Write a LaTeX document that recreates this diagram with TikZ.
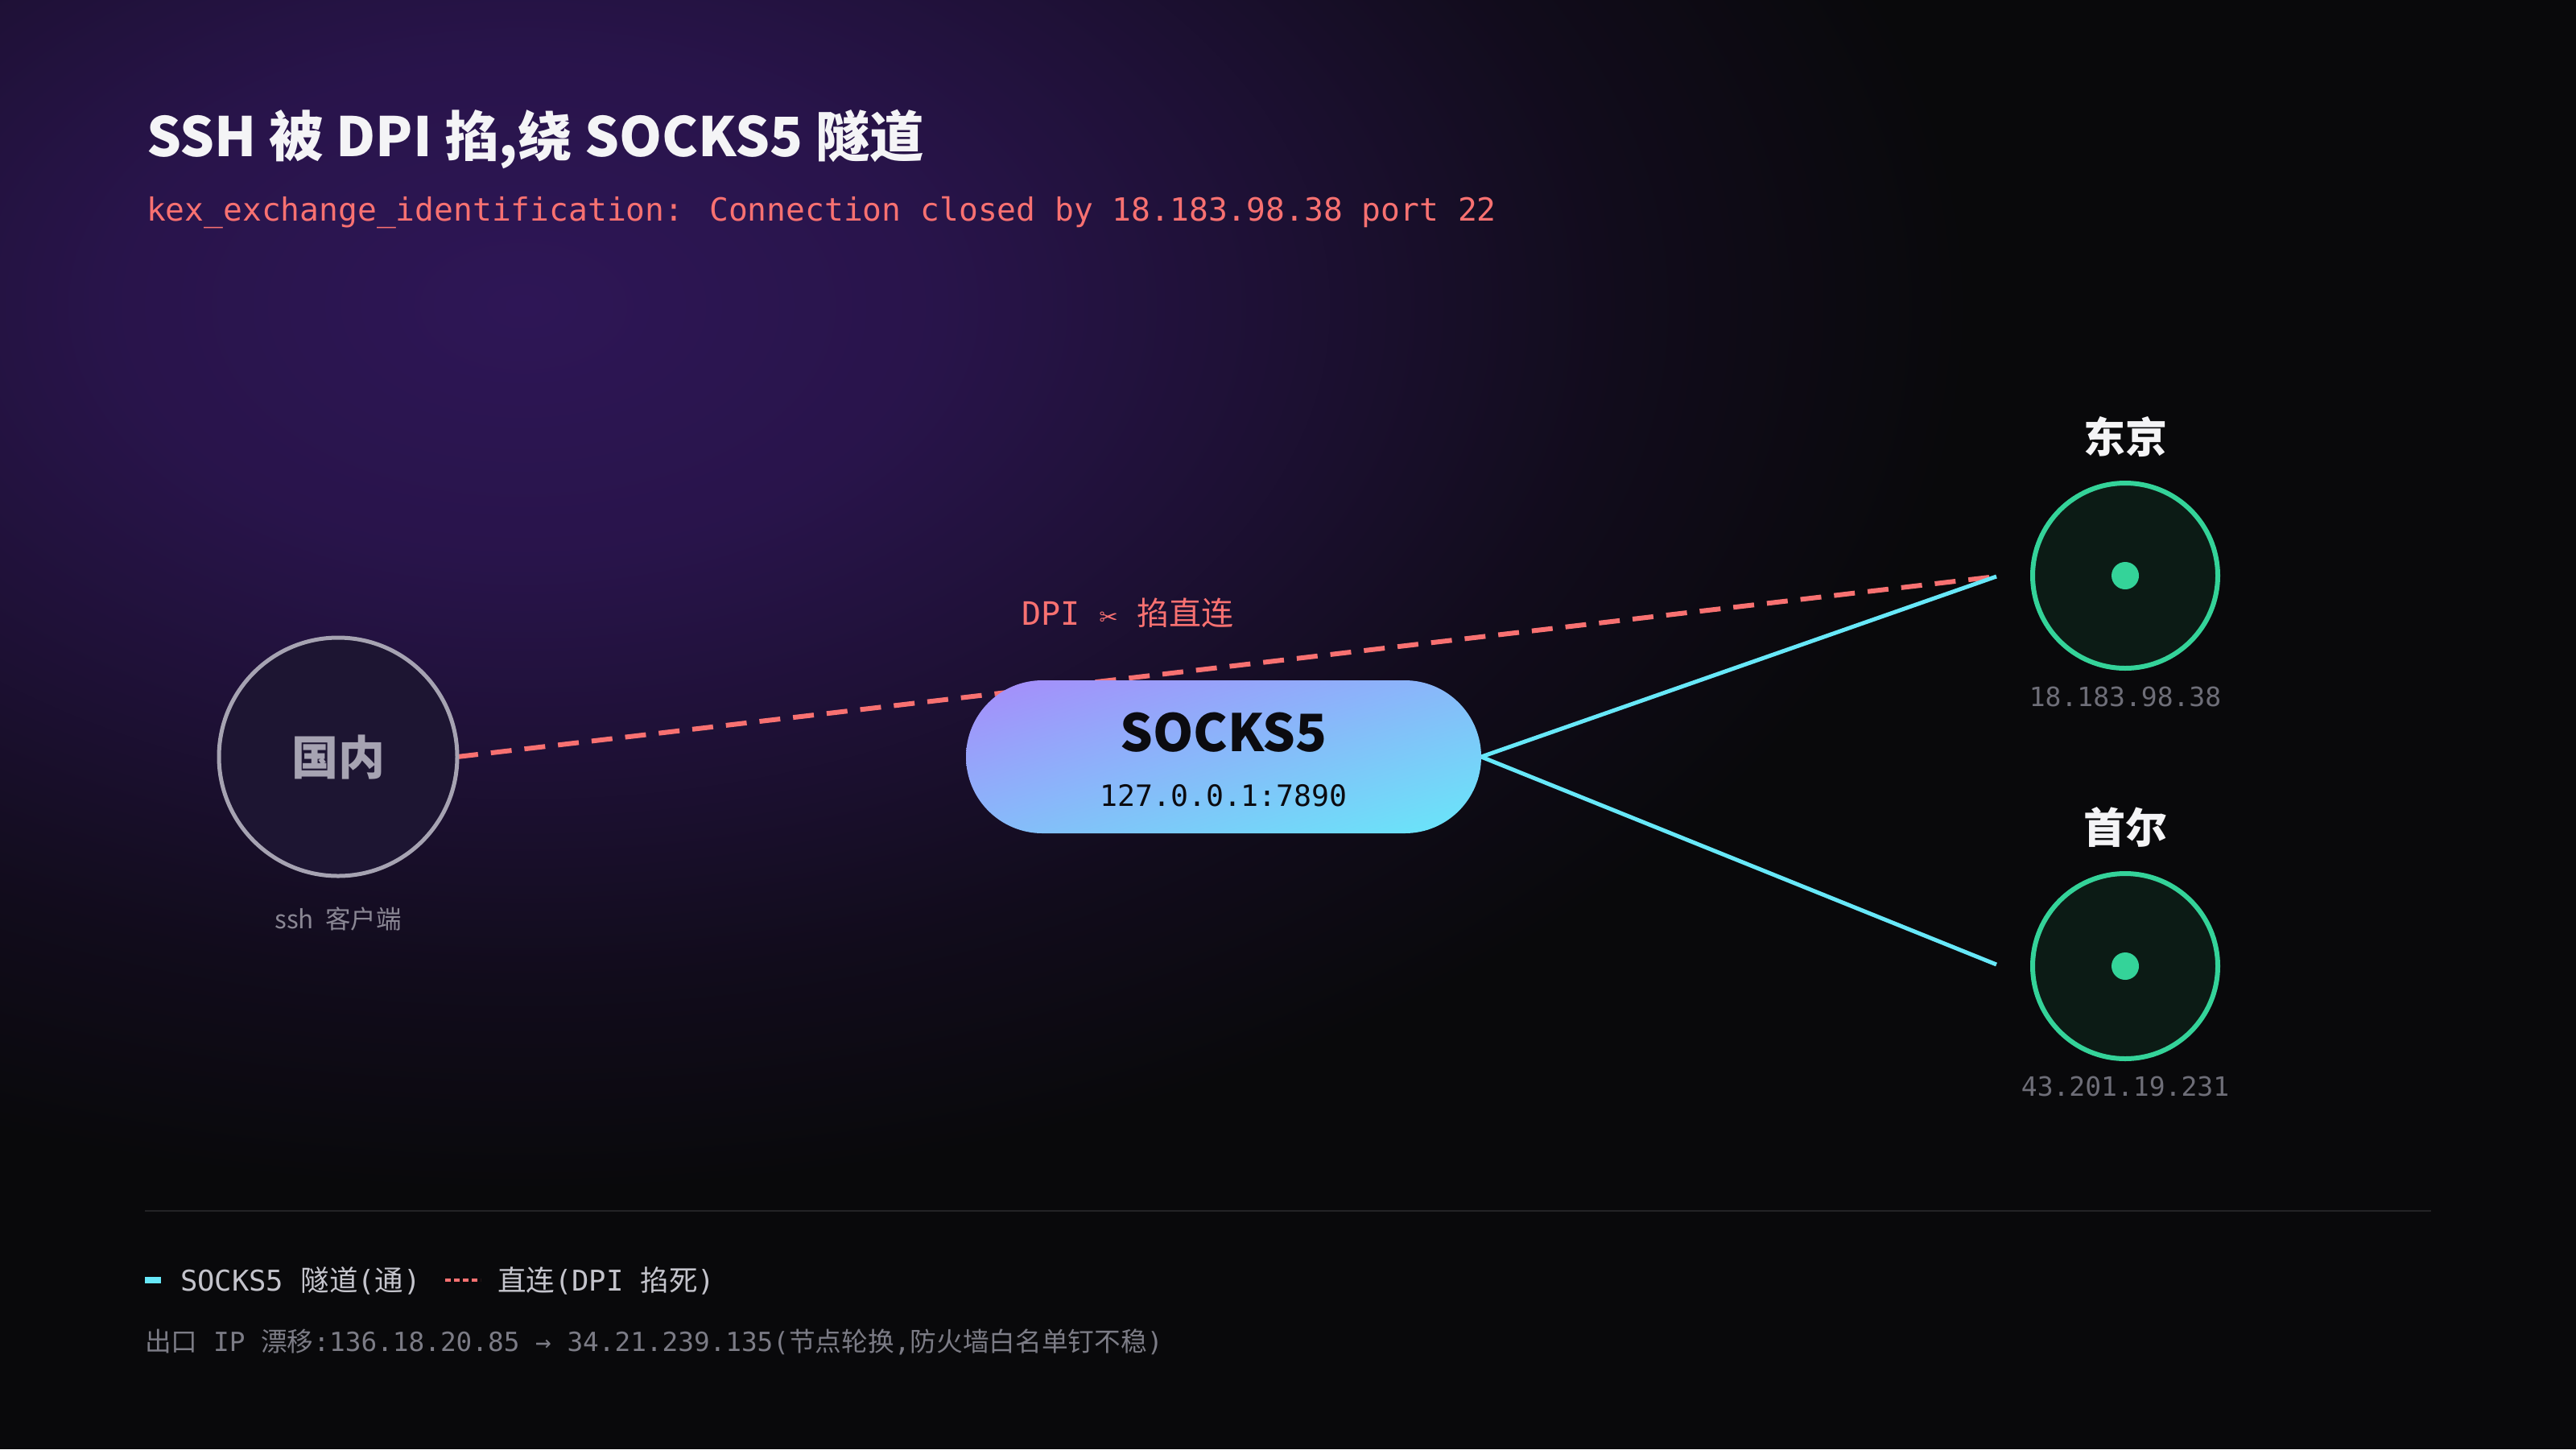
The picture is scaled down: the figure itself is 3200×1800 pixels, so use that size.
\documentclass[tikz,border=0pt]{standalone}
\usepackage{fontspec}
\usetikzlibrary{shadings}
\newfontfamily\cjk{Noto Sans CJK SC}
\newfontfamily\mono{DejaVu Sans Mono}
\newfontfamily\dvs{DejaVu Sans}
\newcommand\fsz[1]{\fontsize{#1}{#1}\selectfont}
\definecolor{bgc}{HTML}{09090B}
\definecolor{glowc}{HTML}{2E1656}
\definecolor{titlec}{HTML}{F4F4F6}
\definecolor{redc}{HTML}{F87171}
\definecolor{cyanc}{HTML}{67E8F9}
\definecolor{violetc}{HTML}{A78BFA}
\definecolor{greenc}{HTML}{34D399}
\definecolor{cityfill}{HTML}{0C1B15}
\definecolor{clientstroke}{HTML}{A6A3B2}
\definecolor{clientfill}{HTML}{1D1532}
\definecolor{sshc}{HTML}{8A8794}
\definecolor{ipc}{HTML}{6E6E78}
\definecolor{sepc}{HTML}{232326}
\definecolor{legA}{HTML}{C4C4CC}
\definecolor{legB}{HTML}{7C7C86}
\definecolor{pilltext}{HTML}{0B0B10}
\pgfdeclareradialshading{glow}{\pgfpoint{0bp}{0bp}}{color(0bp)=(glowc); color(7bp)=(glowc!85!bgc); color(13bp)=(glowc!55!bgc); color(19bp)=(glowc!22!bgc); color(25bp)=(bgc); color(50bp)=(bgc)}
\pgfdeclarelayer{bglayer}
\pgfdeclarelayer{lines}
\pgfsetlayers{bglayer,lines,main}
\begin{document}
\begin{tikzpicture}[x=1pt,y=-1pt,
  every node/.style={inner sep=0pt,outer sep=0pt},
  client/.style={circle,minimum size=296pt,draw=clientstroke,line width=5pt,fill=clientfill},
  city/.style={circle,minimum size=230pt,draw=greenc,line width=6pt,fill=cityfill},
  citydot/.style={circle,minimum size=34pt,fill=greenc},
  pill/.style={rectangle,rounded corners=95pt,minimum width=640pt,minimum height=190pt,
    upper left=violetc,lower right=cyanc,upper right=violetc!50!cyanc,lower left=violetc!50!cyanc},
  dashred/.style={draw=redc,line width=6pt,dash pattern=on 26pt off 16pt},
  cyanline/.style={draw=cyanc,line width=5pt},
  cityname/.style={text=titlec,font=\cjk\bfseries\fsz{52}},
  iplabel/.style={text=ipc,font=\mono\fsz{33}}
]
\useasboundingbox (0,0) rectangle (3200,1800);
\begin{pgfonlayer}{bglayer}
\fill[bgc] (0,0) rectangle (3200,1800);
\begin{scope}
\clip (0,0) rectangle (3200,1800);
\shade[shading=glow] (650,380) ellipse [x radius=1800, y radius=1100];
\end{scope}
\end{pgfonlayer}

% title
\node[anchor=base west,text=titlec,font=\cjk\bfseries\fsz{67.5}] (title) at (182,194) {SSH 被 DPI 掐,绕 SOCKS5 隧道};
\node[anchor=base west,text=redc,font=\mono\fsz{39.6}] (sub) at (182,274) {kex\_exchange\_identification: Connection closed by 18.183.98.38 port 22};

% client
\node[client,text opacity=1] (cn) at (420,940) {};
\node[text=clientstroke,font=\cjk\bfseries\fsz{58}] (cnt) at (420,940) {国内};
\node[text=sshc,font=\cjk\fsz{31.5}] (cnl) at (420,1141) {ssh\ \ 客户端};

% socks pill
\node[pill] (sk) at (1520,940) {};
\node[anchor=base,text=pilltext,font=\cjk\bfseries\fsz{64}] (skt) at (1520,933) {SOCKS5};
\node[anchor=base,text=pilltext,font=\mono\fsz{36.5}] (skp) at (1520,1001) {127.0.0.1:7890};

% cities
\node[city] (tk) at (2640,715) {};
\node[citydot] (tkd) at (tk.center) {};
\node[cityname] (tkn) at (2640,543) {东京};
\node[iplabel] (tkip) at (2640,865) {18.183.98.38};

\node[city] (se) at (2640,1200) {};
\node[citydot] (sed) at (se.center) {};
\node[cityname] (sen) at (2640,1027) {首尔};
\node[iplabel] (seip) at (2640,1349) {43.201.19.231};

\coordinate (tkin) at (2480,716);
\coordinate (sein) at (2480,1198);

% DPI label
\node[text=redc] (dpi) at (1401,761) {{\mono\fsz{40}DPI }{\dvs\fsz{28}✂}{\mono\fsz{40}\ }{\cjk\fsz{40}掐直连}};

\begin{pgfonlayer}{lines}
\draw[dashred] (cn.east) -- (tkin);
\draw[cyanline] (sk.east) -- (tkin);
\draw[cyanline] (sk.east) -- (sein);
\end{pgfonlayer}

% legend
\draw[sepc,line width=2pt] (180,1504) -- (3020,1504);
\fill[cyanc] (180,1586) rectangle (200,1594);
\node[anchor=base west,text=legA,font=\fsz{35.5}] (lg1) at (224,1603) {{\mono SOCKS5 }{\cjk 隧道}{\mono (}{\cjk 通}{\mono )}};
\draw[redc,line width=4pt,dash pattern=on 7pt off 4pt] (553,1590) -- (597,1590);
\node[anchor=base west,text=legA,font=\fsz{35.5}] (lg2) at (618,1603) {{\cjk 直连}{\mono (DPI }{\cjk 掐死}{\mono )}};
\node[anchor=base west,text=legB,font=\fsz{32.7}] (lg3) at (180,1678) {{\cjk 出口}{\mono\ IP }{\cjk 漂移}{\mono :136.18.20.85 → 34.21.239.135(}{\cjk 节点轮换}{\mono ,}{\cjk 防火墙白名单钉不稳}{\mono )}};
\end{tikzpicture}
\end{document}
